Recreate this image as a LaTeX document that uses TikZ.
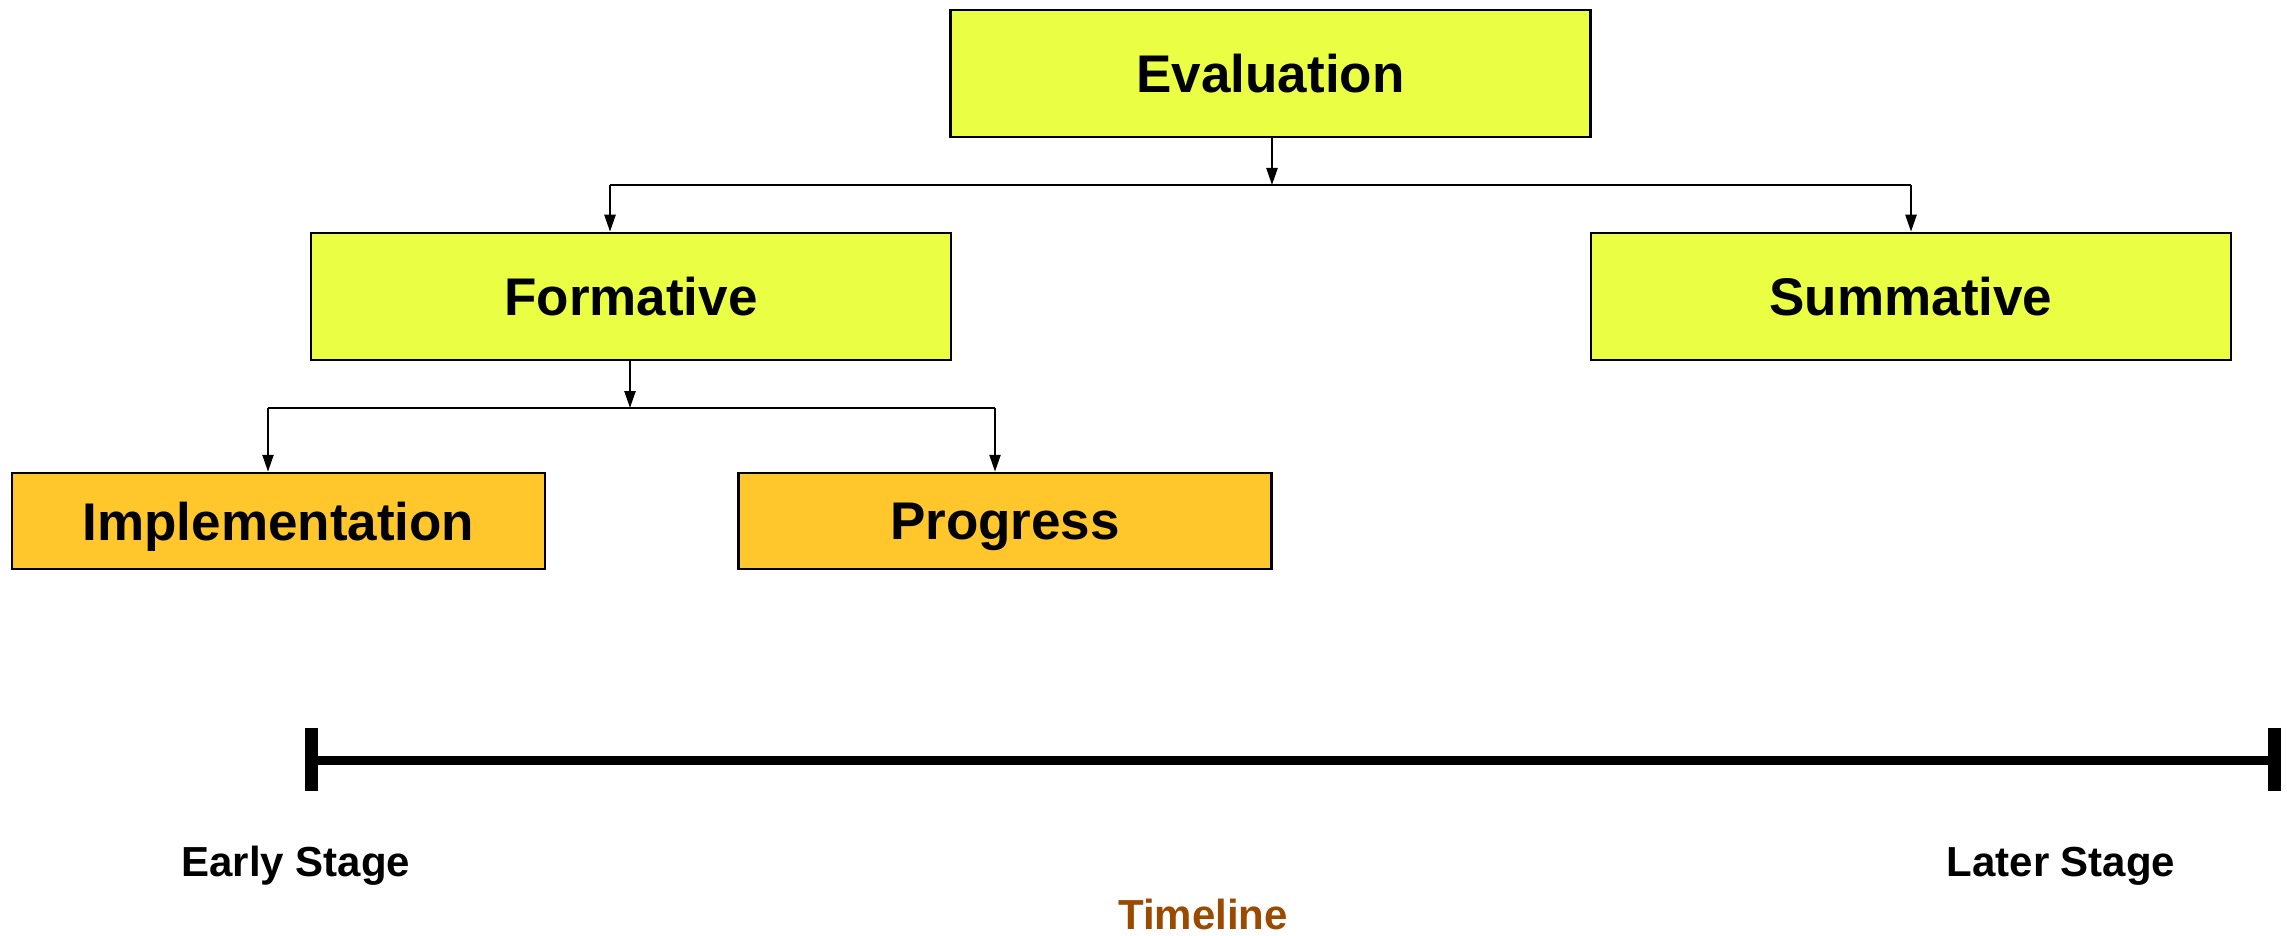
\documentclass[tikz,border=0pt]{standalone}
\usepackage{fontspec}
\setmainfont{Liberation Sans}
\usetikzlibrary{arrows.meta}
\definecolor{boxyellow}{RGB}{234,255,68}
\definecolor{boxorange}{RGB}{255,199,44}
\definecolor{tlbrown}{RGB}{156,74,0}
\tikzset{
  ybox/.style={draw=black, line width=2.5pt, fill=boxyellow, minimum width=640pt, minimum height=127pt, inner sep=0pt, text depth=0pt, font=\bfseries\fontsize{53}{60}\selectfont},
  obox/.style={draw=black, line width=2.5pt, fill=boxorange, minimum width=533pt, minimum height=96pt, inner sep=0pt, text depth=0pt, font=\bfseries\fontsize{53}{60}\selectfont},
  conn/.style={draw=black, line width=2.4pt},
  arr/.style={conn, -{Triangle[length=17pt,width=11pt]}},
  stagelbl/.style={font=\bfseries\fontsize{42}{48}\selectfont, inner sep=0pt},
}
\begin{document}
\begin{tikzpicture}[x=1pt, y=-1pt]
\useasboundingbox (0,0) rectangle (2287,936);
\node[ybox] (eval) at (1270.5,73.5) {Evaluation};
\node[ybox] (form) at (631,296.5) {Formative};
\node[ybox] (sum) at (1911,296.5) {Summative};
\node[obox] (impl) at (278.5,521) {Implementation};
\node[obox] (prog) at (1005,521) {Progress};
% top branch
\coordinate (j1) at (1272,185);
\coordinate (j1l) at (610,185);
\coordinate (j1r) at (1911,185);
\draw[arr] (eval.south -| j1) -- (j1);
\draw[conn] (j1l) -- (j1r);
\draw[arr] (j1l) -- (j1l |- form.north);
\draw[arr] (j1r) -- (sum.north);
% second branch
\coordinate (j2) at (630,408);
\coordinate (j2l) at (268,408);
\coordinate (j2r) at (995,408);
\draw[arr] (form.south -| j2) -- (j2);
\draw[conn] (j2l) -- (j2r);
\draw[arr] (j2l) -- (j2l |- impl.north);
\draw[arr] (j2r) -- (j2r |- prog.north);
% timeline
\coordinate (tl) at (311,760);
\coordinate (tr) at (2274,760);
\draw[line width=9pt] (tl) -- (tr);
\draw[line width=13pt] ([yshift=-31pt]tl) -- ([yshift=32pt]tl);
\draw[line width=13pt] ([yshift=-31pt]tr) -- ([yshift=32pt]tr);
\node[stagelbl] (early) at (296,866) {Early Stage};
\node[stagelbl] (later) at (2061,866) {Later Stage};
\node[stagelbl, text=tlbrown] (tline) at (1203,914) {Timeline};
\end{tikzpicture}
\end{document}
